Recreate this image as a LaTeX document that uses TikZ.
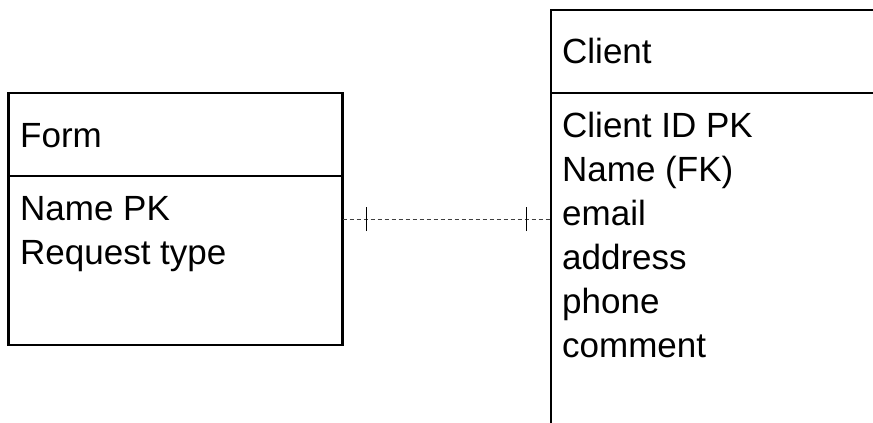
\documentclass[tikz,border=0pt]{standalone}
\usepackage{fontspec}
\setmainfont{Liberation Sans}
\begin{document}
\begin{tikzpicture}[x=1pt,y=-1pt,
  entity/.style={draw=black,line width=2.9pt,inner sep=0pt,outer sep=0pt},
  sepline/.style={draw=black,line width=2.9pt},
  label/.style={inner sep=0pt,anchor=base west,font=\fontsize{35}{44}\selectfont},
  rel/.style={draw=black!75,line width=0.9pt,dash pattern=on 4pt off 3pt},
  tick/.style={draw=black,line width=1pt}]
\useasboundingbox (0,0) rectangle (873,423);
\clip (0,0) rectangle (873,423);
% entities
\node[entity,minimum width=334pt,minimum height=252pt] (form) at (175.5,219) {};
\node[entity,minimum width=350pt,minimum height=460pt] (client) at (726,240) {};
\draw[sepline] (form.west |- 0,176) -- (form.east |- 0,176);
\draw[sepline] (client.west |- 0,93) -- (client.east |- 0,93);
% texts
\node[label] (formtitle) at (20,147) {Form};
\node[label] (f1) at (20,220) {Name PK};
\node[label] (f2) at (20,264) {Request type};
\node[label] (clienttitle) at (562,63) {Client};
\foreach \t [count=\i] in {Client ID PK,Name (FK),email,address,phone,comment}
  \node[label] (c\i) at (562,{137+44*(\i-1)}) {\t};
% relationship
\coordinate (relend) at (form.east -| client.west);
\draw[rel] (form.east) -- (relend);
\coordinate (t1) at ([xshift=24pt]form.east);
\coordinate (t2) at ([xshift=-25pt]relend);
\draw[tick] ([yshift=-12pt]t1) -- ([yshift=12pt]t1);
\draw[tick] ([yshift=-12pt]t2) -- ([yshift=12pt]t2);
\end{tikzpicture}
\end{document}
